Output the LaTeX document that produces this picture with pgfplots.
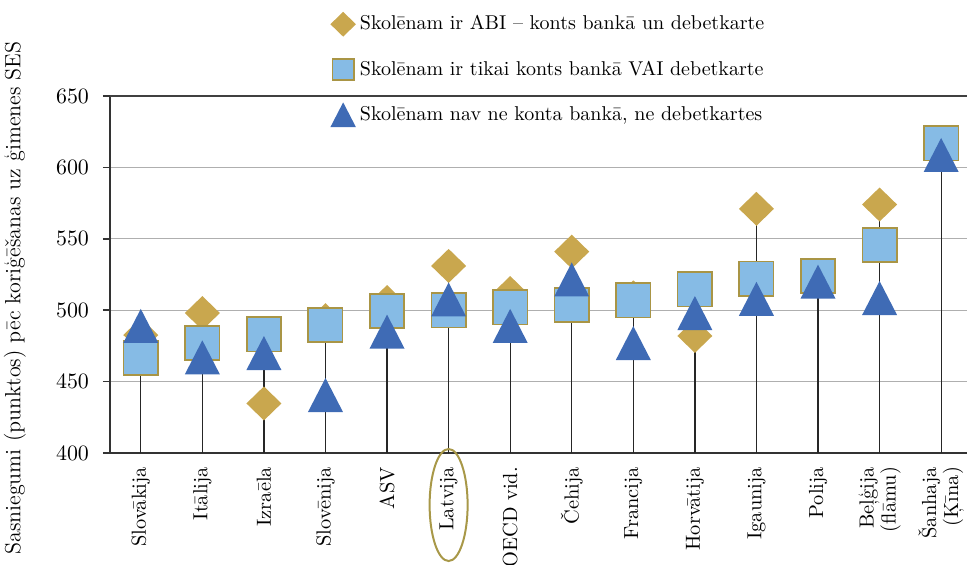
\documentclass[border=0pt]{standalone}
\usepackage{pgfplots}
\pgfplotsset{compat=1.18}
\definecolor{gold}{RGB}{201,167,78}
\definecolor{sqfill}{RGB}{134,187,229}
\definecolor{sqedge}{RGB}{169,149,69}
\definecolor{triblue}{RGB}{63,107,181}
\definecolor{ellcol}{RGB}{168,152,72}
\definecolor{gridc}{RGB}{175,175,175}
\pgfdeclareplotmark{mydia}{%
 \pgfpathmoveto{\pgfqpoint{0pt}{\pgfplotmarksize}}%
 \pgfpathlineto{\pgfqpoint{-1.03\pgfplotmarksize}{0pt}}%
 \pgfpathlineto{\pgfqpoint{0pt}{-\pgfplotmarksize}}%
 \pgfpathlineto{\pgfqpoint{1.03\pgfplotmarksize}{0pt}}%
 \pgfpathclose\pgfusepathqfill}
\pgfdeclareplotmark{mytri}{%
 \pgfpathmoveto{\pgfqpoint{0pt}{\pgfplotmarksize}}%
 \pgfpathlineto{\pgfqpoint{-1.03\pgfplotmarksize}{-\pgfplotmarksize}}%
 \pgfpathlineto{\pgfqpoint{1.03\pgfplotmarksize}{-\pgfplotmarksize}}%
 \pgfpathclose\pgfusepathqfill}
\begin{document}
\begin{tikzpicture}
\begin{axis}[
  name=ax,
  scale only axis, width=428.5pt, height=178.5pt,
  xmin=-0.5, xmax=13.42, ymin=400, ymax=650,
  clip=false,
  axis x line*=bottom, axis y line*=left,
  x axis line style={draw=black!80, line width=1pt, -},
  y axis line style={draw=black!80, line width=0.75pt, -},
  xtick={0,...,13},
  xticklabels={Slovākija, Itālija, Izraēla, Slovēnija, ASV, Latvija, OECD vid., Čehija, Francija, Horvātija, Igaunija, Polija, {Beļģija\\(flāmu)}, {Šanhaja\\(Ķīna)}},
  xtick style={draw=none},
  xticklabel style={rotate=90, anchor=east, align=right, font=\fontsize{10.2}{11}\selectfont},
  ytick={400,450,500,550,600},
  extra y ticks={650},
  extra y tick style={grid style={black!75, line width=0.9pt}},
  ymajorgrids, grid style={gridc, line width=0.6pt},
  tick align=outside, major tick length=3.5pt,
  ytick style={draw=black!80, line width=0.75pt},
  yticklabel style={font=\fontsize{10.5}{12}\selectfont, xshift=-3.5pt},
  ylabel={Sasniegumi (punktos) pēc koriģēšanas uz ģimenes SES},
  ylabel style={at={(axis description cs:-0.111,0.434)}, anchor=center, font=\fontsize{11}{13}\selectfont},
  legend style={at={(axis description cs:0.2497,1.2488)}, anchor=north west, draw=none, fill=none,
    font=\fontsize{10}{12}\selectfont, row sep=10pt},
  legend cell align=left,
]
% stems from 400 to the highest value
\addplot[forget plot, only marks, mark=*, mark size=0pt, mark options={draw=none, fill=none},
  error bars/.cd, y dir=plus, y explicit, error mark=none,
  error bar style={draw=black!85, line width=0.65pt}]
 coordinates {
 (0,400) +- (0,89)
 (1,400) +- (0,98)
 (2,400) +- (0,83)
 (3,400) +- (0,93)
 (4,400) +- (0,105.7)
 (5,400) +- (0,131)
 (6,400) +- (0,112)
 (7,400) +- (0,141)
 (8,400) +- (0,109)
 (9,400) +- (0,114.5)
 (10,400) +- (0,171)
 (11,400) +- (0,124)
 (12,400) +- (0,174)
 (13,400) +- (0,217)
 };
\addplot[only marks, mark=mydia, mark size=8.5pt, mark options={fill=gold, draw=none},
  legend image post style={mark size=6.2pt}]
 coordinates {
 (0,482.6) (1,498) (2,434.7) (3,493) (4,505.7) (5,531) (6,512)
 (7,541) (8,509) (9,482) (10,571) (11,522.5) (12,574) (13,616)
 };
\addlegendentry{Skolēnam ir ABI – konts bankā un debetkarte}
\addplot[only marks, mark=square*, mark size=8.6pt, mark options={fill=sqfill, draw=sqedge, line width=0.8pt},
  legend image post style={mark size=5.3pt}]
 coordinates {
 (0,466.5) (1,477) (2,483) (3,489.6) (4,499.4) (5,500) (6,502)
 (7,503.6) (8,507) (9,514.5) (10,522) (11,524) (12,545.7) (13,617)
 };
\addlegendentry{Skolēnam ir tikai konts bankā VAI debetkarte}
\addplot[only marks, mark=mytri, mark size=8.5pt, mark options={fill=triblue, draw=none},
  legend image post style={mark size=6.2pt}]
 coordinates {
 (0,489) (1,467) (2,470) (3,440.6) (4,485) (5,507.5) (6,489)
 (7,521.5) (8,477) (9,498) (10,508) (11,520) (12,508.5) (13,608.7)
 };
\addlegendentry{Skolēnam nav ne konta bankā, ne debetkartes}
\draw[ellcol, line width=1pt] ([yshift=-26pt]axis cs:5,400) ellipse [x radius=9.5pt, y radius=28pt];
\end{axis}
\pgfresetboundingbox
\useasboundingbox ([shift={(-55pt,-56pt)}]ax.south west) rectangle ([shift={(0pt,48pt)}]ax.north east);
\end{tikzpicture}
\end{document}
